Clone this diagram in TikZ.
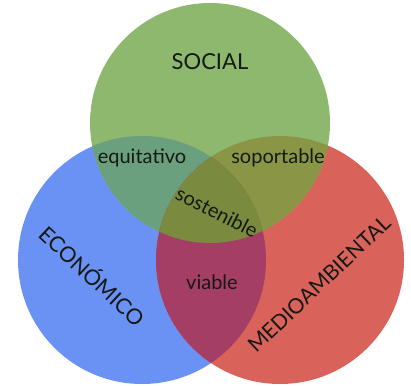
\documentclass[tikz,border=0pt]{standalone}
\usepackage{fontspec}
\setmainfont{Lato}
\definecolor{cg}{RGB}{141,184,110}
\definecolor{cb}{RGB}{106,146,245}
\definecolor{cr}{RGB}{217,98,90}
\definecolor{cgb}{RGB}{106,160,126}
\definecolor{cgr}{RGB}{138,150,70}
\definecolor{cbr}{RGB}{165,62,100}
\definecolor{cgbr}{RGB}{122,138,62}
\definecolor{ink}{RGB}{20,25,20}
\tikzset{lbl/.style={text=ink, inner sep=0pt}}
\begin{document}
\begin{tikzpicture}[x=1pt,y=-1pt]
\useasboundingbox (0,0) rectangle (411,385);
\def\G{(210,123) circle (120)}
\def\B{(142,260) circle (124)}
\def\R{(280,260) circle (124)}
\fill[cb] \B;
\fill[cr] \R;
\fill[cg] \G;
\begin{scope}\clip \B; \fill[cgb] \G; \end{scope}
\begin{scope}\clip \R; \fill[cgr] \G; \end{scope}
\begin{scope}\clip \B; \fill[cbr] \R; \end{scope}
\begin{scope}\clip \B; \clip \R; \fill[cgbr] \G; \end{scope}
\node[lbl, font=\fontsize{22}{22}\selectfont] (social) at (210,62) {SOCIAL};
\node[lbl, font=\fontsize{20}{20}\selectfont] (equi) at (142,158) {equitativo};
\node[lbl, font=\fontsize{20}{20}\selectfont] (sopo) at (278,158) {soportable};
\node[lbl, font=\fontsize{20}{20}\selectfont, rotate=-27] (sost) at (217,212) {sostenible};
\node[lbl, font=\fontsize{20}{20}\selectfont] (viab) at (212,282) {viable};
\node[lbl, font=\fontsize{21.5}{21.5}\selectfont, rotate=-43] (econ) at (93,275) {ECONÓMICO};
\node[lbl, font=\fontsize{21}{21}\selectfont, rotate=43.5] (medio) at (319,284) {MEDIOAMBIENTAL};
\end{tikzpicture}
\end{document}
